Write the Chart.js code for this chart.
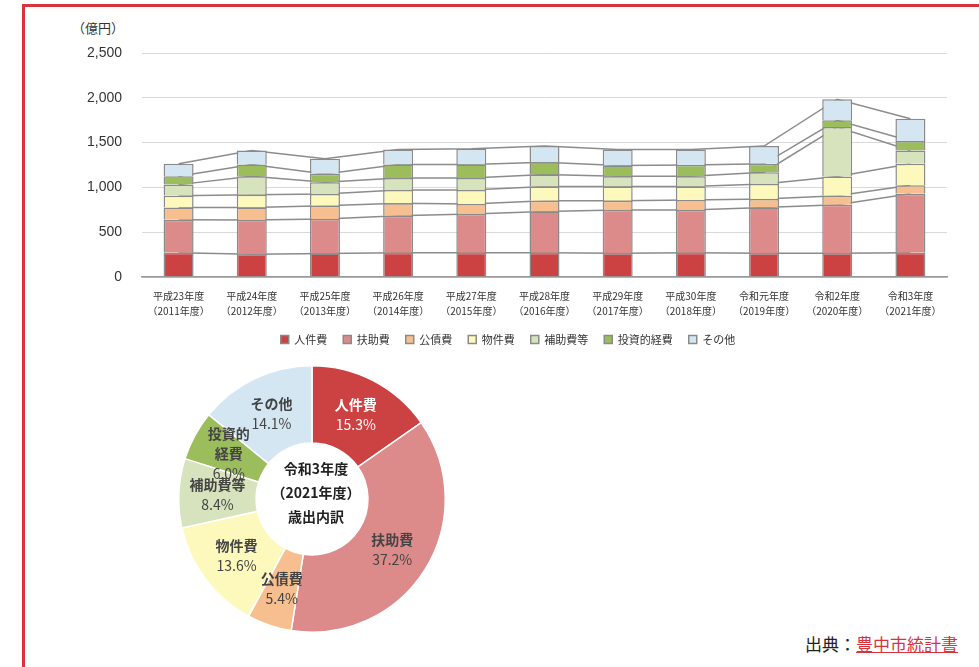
<!DOCTYPE html>
<html lang="ja">
<head>
<meta charset="utf-8">
<title>歳出の推移</title>
<script src="https://cdn.jsdelivr.net/npm/chart.js@4"></script>
<style>
  body {
    margin: 0;
    width: 979px;
    height: 667px;
    overflow: hidden;
    background: #fff;
    position: relative;
    font-family: "Noto Sans CJK JP", sans-serif;
  }
  #frame {
    position: absolute;
    left: 22px;
    top: 4px;
    width: 980px;
    height: 680px;
    border-left: 3px solid #d8343e;
    border-top: 3px solid #d8343e;
  }
  #barBox { position: absolute; left: 0; top: 0; width: 979px; height: 355px; }
  #pieBox { position: absolute; left: 170px; top: 357px; width: 284px; height: 284px; }
  #unit {
    position: absolute;
    left: 72px;
    top: 18px;
    font-size: 13px;
    color: #333;
  }
  #source {
    position: absolute;
    left: 805px;
    top: 631px;
    font-size: 17px;
    color: #222;
    white-space: nowrap;
  }
  #source span { color: #d8343e; text-decoration: underline; }
</style>
</head>
<body>
<div id="frame"></div>
<div id="unit">（億円）</div>
<div id="barBox"><canvas id="barChart"></canvas></div>
<div id="pieBox"><canvas id="pieChart"></canvas></div>
<div id="source">出典：<span>豊中市統計書</span></div>

<script>
// 年度
var years = [
  ["平成23年度", "（2011年度）"],
  ["平成24年度", "（2012年度）"],
  ["平成25年度", "（2013年度）"],
  ["平成26年度", "（2014年度）"],
  ["平成27年度", "（2015年度）"],
  ["平成28年度", "（2016年度）"],
  ["平成29年度", "（2017年度）"],
  ["平成30年度", "（2018年度）"],
  ["令和元年度", "（2019年度）"],
  ["令和2年度", "（2020年度）"],
  ["令和3年度", "（2021年度）"]
];

// 性質別歳出（億円）
var jinkenhi = [272, 254, 261, 272, 272, 272, 265, 272, 265, 265, 270];
var fujohi   = [367, 381, 386, 412, 431, 460, 482, 475, 512, 542, 658];
var kosaihi  = [138, 142, 149, 138, 112, 120, 105, 113, 94, 101, 95];
var bukkenhi = [131, 142, 131, 150, 157, 157, 157, 149, 168, 213, 240];
var hojohi   = [123, 205, 130, 134, 134, 134, 115, 115, 130, 553, 149];
var toshihi  = [93, 131, 94, 149, 149, 138, 120, 127, 94, 75, 106];
var sonota   = [139, 157, 168, 169, 176, 180, 180, 173, 198, 235, 249];

var yTicks = [0, 500, 1000, 1500, 2000, 2500];

var itemNames = ["人件費", "扶助費", "公債費", "物件費", "補助費等", "投資的経費", "その他"];
var colors = ["#cc4242", "#dc8a8a", "#f7bf8f", "#fdf9bd", "#d6e3bd", "#9cbd5c", "#d5e6f3"];

// 令和3年度 歳出内訳（%）
var shares2021 = [15.3, 37.2, 5.4, 13.6, 8.4, 6.0, 14.1];
var pieLabelLines = [["人件費"], ["扶助費"], ["公債費"], ["物件費"], ["補助費等"], ["投資的", "経費"], ["その他"]];
var centerLines = ["令和3年度", "（2021年度）", "歳出内訳"];

var series = [jinkenhi, fujohi, kosaihi, bukkenhi, hojohi, toshihi, sonota];

var datasets = [];
series.forEach(function (arr, k) {
  datasets.push({
    label: itemNames[k],
    data: arr,
    backgroundColor: colors[k],
    borderColor: "#8a8a8a",
    borderWidth: 1.5,
    categoryPercentage: 1,
    barPercentage: 0.41,
    stack: "total",
    order: 1
  });
});

// 区切り線（各項目の積み上げ上端を結ぶ）
var running = years.map(function () { return 0; });
series.forEach(function (arr) {
  running = running.map(function (v, i) { return v + arr[i]; });
  datasets.push({
    type: "line",
    label: "",
    data: running.slice(),
    yAxisID: "y2",
    borderColor: "#8c8c8c",
    borderWidth: 1.5,
    pointRadius: 0,
    fill: false,
    order: 2
  });
});

new Chart(document.getElementById("barChart"), {
  type: "bar",
  data: { labels: years, datasets: datasets },
  options: {
    responsive: true,
    maintainAspectRatio: false,
    animation: false,
    layout: { padding: { left: 69, right: 32, top: 53, bottom: 0 } },
    scales: {
      x: {
        stacked: true,
        afterFit: function (scale) { scale.height = 41; },
        grid: { display: false, drawTicks: false },
        border: { color: "#999", width: 1.5 },
        ticks: {
          padding: 12,
          maxRotation: 0,
          autoSkip: false,
          color: "#333",
          font: { size: 10, family: "'Noto Sans CJK JP', sans-serif", lineHeight: 1.5 }
        }
      },
      y: {
        stacked: true,
        min: 0,
        max: 2500,
        afterBuildTicks: function (scale) {
          scale.ticks = yTicks.map(function (v) { return { value: v }; });
        },
        afterFit: function (scale) { scale.width = 73; },
        grid: {
          drawTicks: false,
          color: function (ctx) { return ctx.tick && ctx.tick.value === 0 ? "#999" : "#d9d9d9"; },
          lineWidth: function (ctx) { return ctx.tick && ctx.tick.value === 0 ? 1.5 : 1; }
        },
        border: { display: false },
        ticks: {
          padding: 20,
          color: "#333",
          font: { size: 14, family: "'Liberation Sans', Arial, sans-serif" },
          callback: function (v) { return v.toLocaleString("en-US"); }
        }
      },
      y2: { display: false, min: 0, max: 2500, stacked: false }
    },
    plugins: {
      tooltip: { enabled: false },
      legend: {
        position: "bottom",
        labels: {
          boxWidth: 8,
          boxHeight: 8,
          padding: 16,
          color: "#333",
          font: { size: 11, family: "'Noto Sans CJK JP', sans-serif" },
          filter: function (item) { return item.datasetIndex < 7; }
        }
      }
    }
  }
});

// ドーナツのラベルと中央の文字
var pieText = {
  id: "pieText",
  afterDatasetsDraw: function (chart) {
    var ctx = chart.ctx;
    var meta = chart.getDatasetMeta(0);
    ctx.save();
    ctx.textAlign = "center";
    ctx.textBaseline = "middle";
    meta.data.forEach(function (arc, i) {
      var pos = arc.tooltipPosition();
      var lines = pieLabelLines[i].concat([shares2021[i].toFixed(1) + "%"]);
      var lh = 20;
      var y0 = pos.y - (lines.length - 1) * lh / 2;
      ctx.fillStyle = i === 0 ? "#fff" : "#444";
      lines.forEach(function (t, j) {
        ctx.font = (j === lines.length - 1 ? "" : "bold ") + "14px 'Noto Sans CJK JP', sans-serif";
        ctx.fillText(t, pos.x, y0 + j * lh);
      });
    });
    var c = meta.data[0];
    ctx.fillStyle = "#222";
    ctx.font = "bold 14px 'Noto Sans CJK JP', sans-serif";
    centerLines.forEach(function (t, j) {
      ctx.fillText(t, c.x + 4, c.y - 30 + j * 24);
    });
    ctx.restore();
  }
};

new Chart(document.getElementById("pieChart"), {
  type: "doughnut",
  data: {
    labels: itemNames,
    datasets: [{
      data: shares2021,
      backgroundColor: colors,
      borderColor: "#fff",
      borderWidth: 1.5
    }]
  },
  options: {
    responsive: true,
    maintainAspectRatio: false,
    animation: false,
    cutout: "42%",
    layout: { padding: 8 },
    plugins: {
      legend: { display: false },
      tooltip: { enabled: false }
    }
  },
  plugins: [pieText]
});
</script>
</body>
</html>
